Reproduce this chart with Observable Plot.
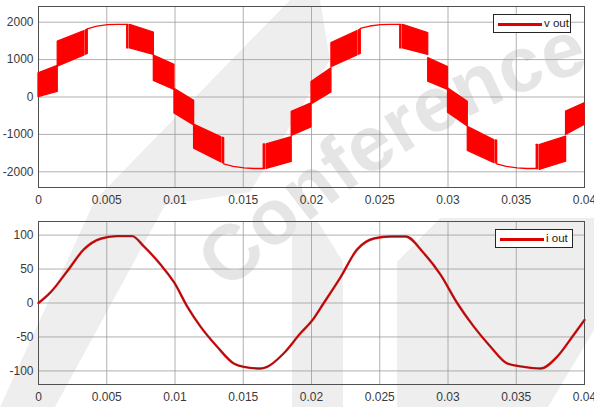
<!DOCTYPE html>
<html>
<head>
<meta charset="utf-8">
<script src="https://cdn.jsdelivr.net/npm/d3@7"></script>
<script src="https://cdn.jsdelivr.net/npm/@observablehq/plot@0.6"></script>
<style>
  body { margin: 0; background: #ffffff; }
  #fig { position: relative; width: 594px; height: 407px; overflow: hidden; background: #ffffff;
         font-family: "Liberation Sans", Arial, Helvetica, sans-serif; }
  #fig > svg, #fig > div { position: absolute; }
  .legend { background: #ffffff; border: 1px solid #262626; box-sizing: border-box; }
  .legend .swatch { position: absolute; height: 3px; background: #e00000; }
  .legend .lbl { position: absolute; font-size: 11.5px; color: #1a1a1a; line-height: 1; }
  #wm { left: 0; top: 0; }
</style>
</head>
<body>
<div id="fig"></div>
<script>
// ---- axis ticks ----
const xTicks = [0, 0.005, 0.01, 0.015, 0.02, 0.025, 0.03, 0.035, 0.04];
const xTickLabels = ["0", "0.005", "0.01", "0.015", "0.02", "0.025", "0.03", "0.035", "0.04"];
const vTicks = [-2000, -1000, 0, 1000, 2000];
const vTickLabels = ["-2000", "-1000", "0", "1000", "2000"];
const iTicks = [-100, -50, 0, 50, 100];
const iTickLabels = ["-100", "-50", "0", "50", "100"];

// ---- v out ----
// Within each switching interval the PWM toggles between a lower and an upper level;
// every interval is listed by its corner points (interval id, time, lower level, upper level).
const vSeg = [
  0, 0,   1, 1,   2, 2,   3, 3, 3, 3, 3,   4, 4,   5, 5,   6, 6,
  7, 7,   8, 8,   9, 9,   10, 10, 10, 10, 10,   11, 11,   12, 12,   13, 13,
  14, 14, 15, 15, 16, 16, 17, 17, 17, 17, 17,   18, 18,   19, 19,   20, 20,
  21, 21, 22, 22, 23, 23, 24, 24, 24, 24, 24,   25, 25,   26, 26,   27, 27
];
const vTime = [
  0, 0.00141,   0.00141, 0.00337,   0.00348, 0.00361,   0.00361, 0.0043, 0.0051, 0.0058, 0.0065,
  0.0065, 0.00659,   0.00671, 0.00845,   0.00845, 0.00996,
  0.00996, 0.0114,   0.0114, 0.01337,   0.01348, 0.0136,   0.0136, 0.0143, 0.0151, 0.0158, 0.0165,
  0.0165, 0.01659,   0.01671, 0.01855,   0.01855, 0.02,
  0.02, 0.02146,   0.02146, 0.02337,   0.02348, 0.02361,   0.02361, 0.0243, 0.0251, 0.0258, 0.0265,
  0.0265, 0.02659,   0.02671, 0.02855,   0.02855, 0.03,
  0.03, 0.03145,   0.03145, 0.03337,   0.03348, 0.0336,   0.0336, 0.0343, 0.0351, 0.0358, 0.0365,
  0.0365, 0.03659,   0.03671, 0.03865,   0.03865, 0.04
];
const vLow = [
  0, 140,   811, 1110,   1130, 1150,   1810, 1880, 1920, 1930, 1930,
  1300, 1300,   1300, 1124,   430, 190,
  -440, -760,   -1380, -1745,   -1760, -1780,   -1800, -1870, -1910, -1925, -1925,
  -1925, -1925,   -1925, -1735,   -1040, -810,
  -200, 120,   800, 1115,   1130, 1150,   1820, 1885, 1920, 1930, 1930,
  1300, 1300,   1300, 1124,   410, 190,
  -420, -790,   -1440, -1765,   -1770, -1785,   -1800, -1870, -1910, -1925, -1925,
  -1925, -1925,   -1950, -1731,   -1017, -750
];
const vHigh = [
  634, 830,   1480, 1765,   1780, 1800,   1810, 1880, 1920, 1930, 1930,
  1930, 1930,   1928, 1722,   1110, 860,
  220, -100,   -740, -1070,   -1085, -1100,   -1800, -1870, -1910, -1925, -1925,
  -1270, -1270,   -1270, -1070,   -400, -170,
  400, 770,   1440, 1765,   1780, 1800,   1820, 1885, 1920, 1930, 1930,
  1930, 1930,   1928, 1710,   1040, 800,
  230, -130,   -800, -1150,   -1160, -1170,   -1800, -1870, -1910, -1925, -1925,
  -1280, -1280,   -1285, -1062,   -393, -169
];

// ---- i out ----
const iTime = [
  0, 0.00088, 0.0021, 0.00332, 0.00454, 0.00576, 0.00686, 0.0077, 0.00894, 0.00996,
  0.01089, 0.01187, 0.01309, 0.0143, 0.01504, 0.01626, 0.01675, 0.01797, 0.01919,
  0.02, 0.0209, 0.0221, 0.02335, 0.02457, 0.0258, 0.0269, 0.0282, 0.02945,
  0.03067, 0.03189, 0.0331, 0.03433, 0.03555, 0.03677, 0.038, 0.0392, 0.04
];
const iValue = [
  0, 15.6, 46.7, 78.8, 94.6, 98.5, 98.5, 83.7, 56.6, 29.5,
  -5, -34.8, -64.4, -89, -94, -96.5, -94, -74, -44.6,
  -27, 0, 37, 79, 95, 98, 98, 74, 41.8,
  0, -34.8, -64, -89, -94, -96.5, -79, -47, -25
];

const vRows = vSeg.map((s, k) => ({seg: s, t: vTime[k], lo: vLow[k], hi: vHigh[k]}));
const iRows = iTime.map((t, k) => ({t, i: iValue[k]}));

const fig = document.getElementById("fig");

// faint watermark lying under both axes
const wm = d3.create("svg").attr("id", "wm").attr("width", 594).attr("height", 407);
const wmFill = "#eeeeee";
wm.append("path").attr("d", "M0,407 L55,407 L165,205 L250,192 L330,60 L320,0 L290,0 L95,200 Z").attr("fill", wmFill);
wm.append("path").attr("d", "M397,407 L397,262 L440,218 L594,218 L594,330 L548,407 Z").attr("fill", wmFill);
wm.append("path").attr("d", "M292,407 L343,407 L343,262 L318,222 L292,222 Z").attr("fill", wmFill);
wm.append("path").attr("id", "wmArc").attr("d", "M228,292 Q420,110 600,68").attr("fill", "none");
wm.append("text")
  .attr("font-family", "Liberation Sans, Arial, sans-serif")
  .attr("font-weight", "bold").attr("font-size", 78)
  .attr("fill", "#e5e5e5")
  .append("textPath").attr("href", "#wmArc")
  .text("Conference");
fig.appendChild(wm.node());

const common = {
  width: 594,
  marginLeft: 38,
  marginRight: 10,
  style: {background: "transparent", fontFamily: "Liberation Sans, Arial, sans-serif", fontSize: "12px", color: "#3a3a3a", overflow: "visible"},
  x: {domain: [0, 0.04], label: null}
};

const axisMarks = (yTicks, yLabels) => [
  Plot.gridX(xTicks, {stroke: "#9c9c9c", strokeOpacity: 1, strokeWidth: 0.8}),
  Plot.gridY(yTicks, {stroke: "#9c9c9c", strokeOpacity: 1, strokeWidth: 0.8}),
  Plot.axisX(xTicks, {tickSize: 0, tickPadding: 7.5, tickFormat: (d, k) => xTickLabels[k], label: null, fill: "#3a3a3a"}),
  Plot.axisY(yTicks, {tickSize: 0, tickPadding: 5, tickFormat: (d, k) => yLabels[k], label: null, fill: "#3a3a3a"}),
  Plot.frame({stroke: "#505050", strokeWidth: 1})
];

const vPlot = Plot.plot({
  ...common,
  height: 210,
  marginTop: 6,
  marginBottom: 23,
  y: {domain: [-2420, 2420], label: null},
  marks: [
    ...axisMarks(vTicks, vTickLabels),
    Plot.areaY(vRows, {x: "t", y1: "lo", y2: "hi", z: "seg", fill: "#ff0000", stroke: "#ff0000", strokeWidth: 1.3, curve: "linear"})
  ]
});
vPlot.style.top = "0px";
fig.appendChild(vPlot);

const iPlot = Plot.plot({
  ...common,
  height: 197,
  marginTop: 11,
  marginBottom: 23,
  y: {domain: [-120, 120], label: null},
  marks: [
    ...axisMarks(iTicks, iTickLabels),
    Plot.line(iRows, {x: "t", y: "i", stroke: "#e01010", strokeWidth: 2.4, curve: "monotone-x"}),
    Plot.line(iRows, {x: "t", y: "i", stroke: "#7a1414", strokeWidth: 0.9, curve: "monotone-x"})
  ]
});
iPlot.style.top = "210px";
fig.appendChild(iPlot);

// legends
function legend(label, left, top) {
  const box = document.createElement("div");
  box.className = "legend";
  Object.assign(box.style, {left: left + "px", top: top + "px", width: "78px", height: "19px"});
  const sw = document.createElement("div");
  sw.className = "swatch";
  Object.assign(sw.style, {left: "4px", top: "8px", width: "44px"});
  const tx = document.createElement("div");
  tx.className = "lbl";
  Object.assign(tx.style, {left: "50px", top: "3px"});
  tx.textContent = label;
  box.append(sw, tx);
  fig.appendChild(box);
}
legend("v out", 493, 14);
legend("i out", 495, 229);
</script>
</body>
</html>
